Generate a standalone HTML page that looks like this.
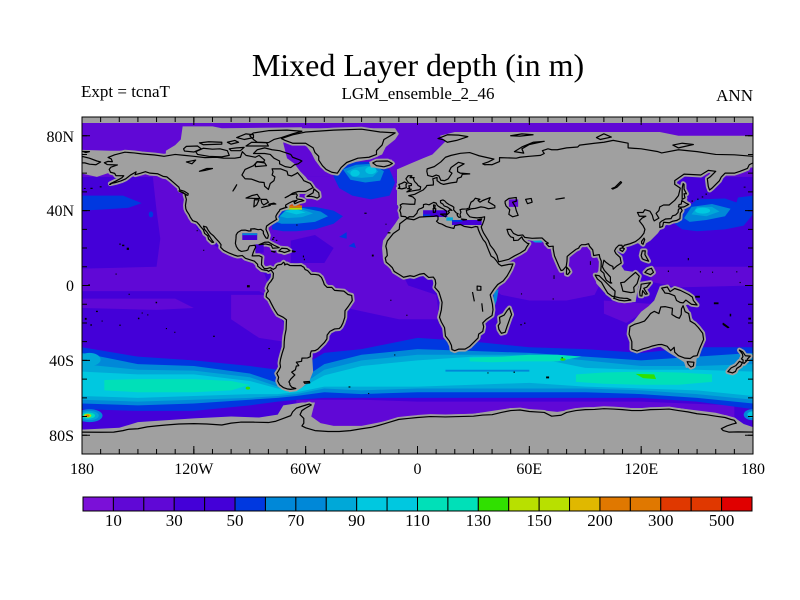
<!DOCTYPE html>
<html><head><meta charset="utf-8"><style>
html,body{margin:0;padding:0;background:#fff}
svg{display:block}
.t{font-family:"Liberation Serif",serif;fill:#000}
.l{fill:#a0a0a0;stroke:#a0a0a0;stroke-width:2.6;stroke-linejoin:round}
.g{fill:#a0a0a0}
.c{fill:none;stroke:#000;stroke-width:0.65;stroke-linejoin:round}
.d{fill:#000}
</style></head><body>
<svg width="800" height="600" viewBox="0 0 800 600" xmlns="http://www.w3.org/2000/svg">
<defs>
<clipPath id="clip"><rect x="82" y="117" width="671" height="337"/></clipPath>
<polygon id="na" points="-168,65.6 -166,66.3 -163.7,66.1 -164.3,67.6 -166,68.4 -162.5,69.8 -157,71.2 -152,70.8 -148,70.3 -141,69.7 -136,69 -130,70 -125,69.5 -120,69 -114,68.3 -108,68.5 -104,68 -98,68 -95,68.5 -94,71.5 -92,69.5 -87,68.5 -85,69.5 -82,67 -82.5,66 -86,66.2 -88,64 -92.5,62 -94.2,59 -92.5,57 -89,56.8 -85,55.3 -82.3,55 -82,53 -80,51.3 -79,54.5 -77,56 -76.5,58 -78,59 -77.5,60.7 -78,62.3 -73.5,62.3 -70,61 -69.5,59 -67.5,58.5 -65,59.8 -64.4,60.3 -62,57.5 -61,56 -57.5,54.5 -56,52.3 -57.5,51.5 -60,50.2 -64,50.2 -67,49.3 -69.5,47.6 -71,46.9 -68,48.5 -65,49 -64.5,48.2 -65,47.2 -64.6,46.2 -62,45.8 -61,45.3 -63.5,44.7 -65.8,43.7 -66.2,44.5 -64.7,45.4 -67,45 -69,44 -70.7,43 -70.8,42.2 -70,41.8 -71.5,41.4 -73.8,40.6 -74,40 -74.9,38.9 -75.5,38 -76,37 -75.9,36 -75.5,35.3 -76.5,34.7 -78,33.8 -79.3,33 -81,31.7 -81.3,30 -80.5,28.2 -80,26.7 -80.4,25.2 -81.2,25.3 -82,26.5 -82.7,27.8 -82.7,29 -84,30 -85.5,29.8 -87.5,30.3 -89.5,30.2 -89.3,29.2 -90.5,29.1 -92.5,29.6 -94.5,29.5 -96.5,28.3 -97.3,27 -97.4,25 -97.7,22.5 -97.2,20.8 -96,19 -94.5,18.2 -92,18.6 -91,19 -90.5,20.5 -90,21.2 -87.2,21.5 -86.8,20.5 -87.6,19 -88.2,17.5 -88.7,15.8 -88,15.8 -85,15.9 -83.4,15.2 -83.6,13.3 -83.7,11 -82.2,9 -80.5,9.1 -79,9.5 -77.4,8.6 -76,9.4 -75.6,10.5 -74.8,11 -73,11.3 -71.9,12.4 -71.2,11.8 -71.3,11 -70,11.5 -68.5,10.7 -66,10.6 -64,10.6 -62.5,10.7 -61.8,10.2 -61,9.8 -60.3,8.5 -59,8 -57.2,6 -55,5.9 -53,5.6 -51.5,4.3 -50.5,2 -50,0.5 -48.5,-1 -46,-1 -44.5,-2.6 -42,-2.8 -39.5,-3 -37.3,-4.8 -35.3,-5.3 -35,-8 -37,-11 -38.9,-13.5 -39,-17 -40,-20 -41,-22 -42,-23 -44.5,-23.2 -47,-24.5 -48.5,-26.5 -48.6,-28.5 -50,-30.5 -52,-32.5 -53.5,-34 -55,-34.8 -57,-35 -57.5,-36.5 -57.5,-38 -59,-38.7 -62,-38.8 -62.2,-40.5 -65,-41 -64,-42.3 -63.7,-42.8 -65,-43 -65.5,-45 -67.5,-46.3 -65.8,-47.8 -68,-50 -69,-51.5 -68.5,-52.3 -68.5,-53 -67.5,-54.3 -65.3,-55 -68,-55.5 -70,-55.2 -72,-54.5 -74,-53 -75,-51 -74.5,-49 -75.5,-47 -74.5,-45.5 -73.5,-43.5 -73.8,-41.5 -73.5,-39.5 -72.7,-36.5 -71.6,-33 -71.5,-30 -71.2,-27 -70.5,-23.5 -70.3,-18.3 -72,-17 -75,-15.5 -76.3,-13.5 -77.2,-12 -78.5,-9.5 -79.5,-7.5 -81.2,-6 -81,-4.3 -80,-3 -80.8,-1.5 -80,0.5 -79.3,1.5 -78.8,2 -77.5,4 -77.3,6.5 -78,7.5 -78.5,8.3 -80,7.5 -80.5,8 -82,8.2 -83.5,8.5 -85.7,10.3 -85.8,11.3 -87.5,13 -90,13.8 -92.3,14.5 -94,16 -96.5,15.7 -98.5,16.3 -101,17.3 -104,18.8 -105.6,20.4 -105.4,21.8 -106.5,23.3 -108.3,25.2 -109.4,26.5 -111,27.8 -112.3,29.5 -113.2,31.2 -114.8,31.7 -114.3,30 -112.9,28.4 -111.4,26 -110.3,24.2 -109.4,23.1 -110.2,23 -112.1,24.8 -112.5,26.5 -114.2,27.8 -114.9,29.8 -116.4,31.5 -117.1,32.5 -118.4,33.9 -120.6,34.6 -121.9,36.5 -122.5,37.8 -123.8,39.8 -124.3,41 -124.5,42.8 -124,46 -124.7,48.4 -123.2,48.2 -123,49 -125,50.3 -127.5,51 -128,52.5 -130.3,54.5 -132,56 -134.5,58 -136.5,58.3 -139.5,59.7 -143.5,60 -146,60.8 -148.5,60 -151.5,59.2 -151,60.7 -154,59 -156.5,57 -159,55.9 -162,55 -164.8,54.4 -162,55.7 -158.6,57.5 -157.6,58.6 -161.8,58.7 -162.5,59.9 -164.7,60.5 -165.4,62 -164.5,63.2 -161,64.4 -164.5,64.5 -166.5,64.6"/>
<polygon id="gl" points="-73,78.5 -67,80.5 -60,82 -45,83 -30,83.5 -20,82 -12,81.5 -18,78 -19,75 -22,72 -22,70 -26,68.5 -32,68 -38,65.7 -41,63 -43,60 -46,60.5 -49,62 -51,64 -53,67 -53,69 -55,71 -56,73.5 -60,76 -67,76 -71,77.5"/>
<polygon id="ic" points="-22,64 -24,65.5 -22,66.4 -16,66.5 -13.5,65.2 -15,64.3 -18,63.4"/>
<polygon id="eu" points="-5.6,36 -6.5,36.8 -8.8,37 -9,38.7 -9.5,40 -8.8,42 -9.3,43 -8,43.7 -4,43.4 -1.5,43.4 -1.2,46 -2.5,47.3 -4.7,48 -1.5,48.7 1,50 3,51 4.5,52.5 5,53.4 8.5,53.7 8.5,55.5 8.2,57 10.5,57.7 10.5,56 12.5,54.5 14,54 18,54.8 21,55.2 21.5,57.2 23.5,58 24,59.4 28,59.6 23,60 21.5,60.8 21.5,63 25,65 22,65.8 18,63 17,61 18.5,60 16.5,57 14.5,56 12.5,56.2 11.5,58.5 10,59 8,58.1 5.5,58.8 5,61 5.2,62.3 9,63.5 12.5,66 15,68.5 18,69.5 23,70.6 28,71 31,70 33,69.3 41,67.5 38,66 35,65 36,64.5 38,64.6 40,64.5 44,66.2 44,68.3 53,68 55,68.5 60,69 66,69.5 68,70.5 67,72 70,73 72,72.5 75,72.5 80,73.5 86,74 87,75 95,76 100,76.5 105,77.5 113,76 113,73.5 120,73 129,71.5 131,70.8 140,72.5 150,71.5 160,70 170,69.8 180,69 180,65.5 178,64.5 177,62.5 173,61 170,60 165,60 163,58 162,56 160,54 158,52 156.7,51 156,53 155.5,57 157,58 160,61 156,61.5 152,59 143,59.5 138,56 138,54 141,52 140,48 138,45.5 135,43 132,43 130,42 129.5,40 128,38.5 129.5,36 127,34.5 126.5,35.5 126,37.5 124.7,39.7 122,40.5 121,39 118,39 119,37 122.5,37 120.5,36 119,34.5 121,32 122,30 121.5,28 120,26 119,25 117,23.5 114,22.3 111,21.5 110,20.3 109.7,21.5 108,21.5 106.5,20 105.7,18.5 106.5,17 108.7,15 109.3,12 107,10.5 105,8.7 104.8,10.2 103,11 101,12.5 100,13.5 99.2,10 100.3,8 101.3,6.9 103.5,4.5 103.5,2 104.2,1.3 103.5,1.3 101.3,2.8 100.3,5 100,6.5 98.3,8 98.5,10 98.6,13 97.8,15 97.5,16.5 94.5,16 94,19 92.3,21 91.8,22.3 90,21.8 88,21.8 87,21 86.5,20 85,19.3 82,17 80.3,15.5 80.2,13 79.8,10.3 78,8.2 77,8 76,10 74.8,12.8 73.5,15.8 72.8,19.5 72.8,21 70.5,20.8 69,22.4 70.2,22.6 68.8,23.5 66.8,25.4 64,25.3 61.5,25.2 57.5,25.7 56.5,27 54,26.7 51.5,27.8 50,30 48,30 48.8,27.5 50,26 51.5,25.5 51.6,24 54,24.2 56,26 56.4,24.9 57.3,23.8 59,22.5 59.8,22.4 58.5,20.5 57.7,19 55,17.3 52,15.8 49,14 45,13 43.5,12.7 42.7,16 41,19 39,21.5 38,24 35.5,28 34.8,29.5 34.2,31.3 35,33 35.9,35.5 36,36.7 34,36.3 32,36.1 30,36.3 28,36.7 26.5,38.5 26.2,40.1 29,41 31,41.2 34,42 36,41.7 38,41 41.5,41.5 41.5,42.6 40,43.5 38,44.6 39,47 35,45.4 33.5,44.5 32.5,45.4 33.5,46 31,46.6 30,45.3 28.7,44.5 27.8,42 28,41.5 26.3,40.9 24,40.8 22.8,40.5 23.3,39.2 22.8,37.8 23.2,36.5 22.3,36.4 21.7,36.9 21.2,37.8 21.8,38.3 20.8,38.8 20,39.7 19.4,40.4 19.5,41.8 18.5,42.5 17,43.2 15.5,44.2 14.6,45.2 13.6,45.7 12.3,45.3 12.4,44.2 13.6,43.5 14.3,42.5 16,41.9 17.9,40.6 18.5,40.1 17.3,40.4 16.5,39.7 17.1,39 16.1,38 15.6,38 15.7,39.5 14.9,40.2 14,40.9 12.6,41.5 11.1,42.4 10.5,43 10,44 8.7,44.4 7.5,43.8 6.2,43.1 4.5,43.5 3.2,43.2 3.2,41.9 2.2,41.3 0.8,40.8 0,39.8 -0.3,38.6 -1.4,37.5 -2.2,36.7 -4.4,36.7"/>
<polygon id="ck" points="-180,69 -176,68 -172,66.5 -170,66 -172.5,64.5 -176,64.8 -178.5,65.5 -180,65.5"/>
<polygon id="af" points="-5.8,35.8 -9.5,33 -9.8,30 -13,27.8 -14.8,25.5 -16.2,23.8 -17,21 -16.5,19 -16.2,16 -17.3,14.7 -16.8,12.5 -15,11 -13.5,9.5 -12.5,7.5 -10,6 -7.5,4.4 -4,5.2 -2,4.8 1,6 3.5,6.4 6,4.3 8.5,4.5 9.5,3 9.8,1 9.3,-1 11.5,-3.5 12.3,-6 13.2,-9 12.8,-13 11.8,-17 12.8,-19.5 14.5,-22.5 15,-27 17,-29.5 18.2,-32 18.5,-34.2 20,-34.8 22,-34 25.5,-34 28,-32.5 30.5,-30 32.5,-28 32.8,-26 35,-24.5 35.5,-22 35,-20 37,-18 40,-16 40.5,-13 40.2,-10 39.5,-7 39,-5 41,-2 43,0.5 46,2.5 48,5 50,8.5 51.2,11.5 49,11.3 45,10.5 43.5,11.5 42.5,13 41,14.8 39.5,15.7 38.5,18 37.3,21 36.5,23 35.2,24.5 33.7,27.3 32.6,29.9 32.3,31.3 31,31.5 29,30.9 25,31.6 23,32.6 20,32 19.5,30.5 18,30.8 15.5,31.5 13,32.8 11.5,33.2 10.2,34.3 11,35.2 11,37 10,37.3 8.6,36.9 5,36.8 1,36.5 -2,35.1"/>
<polygon id="md" points="49.3,-12 50.5,-15.5 49.8,-17 48,-22 47,-25 45,-25.5 43.7,-23.5 43.3,-21.5 44.3,-20 44,-17 46.5,-15.8 48,-13.5"/>
<polygon id="gb" points="-5.7,50 -3,50.5 1.4,51.2 1.7,52.7 0.3,53.4 -0.3,54.3 -1.6,55.6 -2.2,57 -1.8,57.6 -4,57.6 -3,58.6 -5,58.6 -6.2,57 -5.6,56 -4.8,54.8 -3.2,54.3 -3.3,53.4 -4.7,53.2 -4.2,52.2 -5.3,51.7 -3.3,51.4 -5.5,50.2"/>
<polygon id="ir" points="-6,52.2 -6.2,53.8 -5.6,54.6 -7,55.3 -8.5,54.5 -10,54 -9.5,52.5 -10.3,51.9 -8.4,51.6"/>
<polygon id="jp" points="130,31 131.5,31.5 132,33.8 135,33.5 136.8,34.3 139,34.7 140.8,35.7 141,38.5 142,40 141.3,41.4 140,40.7 139.8,39 138.5,37.7 136.8,37.2 136,35.7 133,35.5 131,34.4 130,33.5"/>
<polygon id="hk" points="140,42 141.3,41.8 143,42 145.5,43.3 144,44 141.8,45.4 141.5,43.5 140.3,43.2"/>
<polygon id="sk" points="142,46 143.5,46.8 143,49 144.3,49 143,51.5 143,54 142.5,54.4 142,52 142,48"/>
<polygon id="tw" points="120.3,22.5 121,22 121.9,24.5 121.5,25.3 120.2,23.5"/>
<polygon id="hn" points="108.6,19 110,18.2 111,19.6 110.2,20.1 108.7,19.8"/>
<polygon id="lz" points="120,16 120.6,18.5 122.2,18.5 122,16.5 124,13 121.5,13.8 120.6,14.3"/>
<polygon id="mi" points="122,7 125,5.8 126.6,7 125.5,9.2 123.5,8.5"/>
<polygon id="bo" points="109,1.5 109.7,-1 110.2,-3 114.5,-3.8 116.3,-3.5 116,-1 117.8,1 119,5 117,7 116,6.2 114,4.5 111,1.8"/>
<polygon id="su" points="95.3,5.6 97.5,5.2 100.3,2.5 103.8,-1 106,-3 105.8,-5.8 104.5,-5.8 102,-4 100.5,-1.5 98.7,1.7 96.5,3.5"/>
<polygon id="jv" points="105.2,-6.8 106,-6 108.5,-6.6 110.5,-6.8 112.6,-6.9 114.5,-7.8 111,-8.2 108,-7.8"/>
<polygon id="sl" points="119.4,-5.5 120.4,-5.6 120.8,-2.7 122.3,-4.7 123.3,-4.5 121.4,-1.5 123,-0.9 125,1.5 120,0.7 119.8,-1 119.2,-3.5"/>
<polygon id="ng" points="131,-1.4 134,-0.8 135.5,-3.3 138,-1.6 141,-2.6 145.5,-4.8 147.5,-6.2 148,-8 150,-10.4 147,-10 144,-7.8 142.5,-9.3 141,-9.1 139,-8 138,-5.5 135,-4.3 132.7,-4 132,-2.8"/>
<polygon id="au" points="114,-22 113.5,-26 115,-30 115,-34 117.8,-35 121,-33.8 124,-33 126,-32.3 129,-31.6 131,-31.5 134,-32.5 135.8,-34.8 137.7,-33 138,-35.6 140,-37.5 143.5,-38.8 146.3,-39 148,-37.8 150,-37.5 151.3,-33.8 153.5,-28.8 153,-25.5 150.7,-22.5 148.8,-20.5 146.3,-19 145.5,-15 143.6,-14 142.5,-10.8 141.6,-12.5 141.5,-15.5 140.5,-17.5 139,-17 136.5,-15.5 136.8,-12.2 133,-11.3 130.5,-11.5 129.5,-15 127,-13.8 125,-15 123.5,-17 121.8,-19 119,-20 116.5,-20.7"/>
<polygon id="ts" points="144.7,-40.7 148.3,-41 148,-43 146.7,-43.6 145.3,-42.2"/>
<polygon id="nzn" points="172.7,-34.5 174.5,-35.5 175.9,-37.5 178.5,-37.7 177,-39.3 176.8,-40 175.2,-41.6 174.6,-41.2 174.7,-39.8 173.8,-39.2 174.6,-38 174.3,-36.5"/>
<polygon id="nzs" points="172.7,-40.5 174.3,-41.3 173.3,-43 171.3,-44.3 170.6,-45.9 169,-46.7 166.5,-46 168.3,-44 170.8,-42.8 172,-41.4"/>
<polygon id="lk" points="79.9,6.1 80,9.8 81.2,8.5 81.8,7.3 80.6,5.9"/>
<polygon id="cu" points="-85,21.8 -82,23.1 -80,23.2 -77,21.5 -74.2,20.2 -77.7,19.9 -78.5,21.5 -81.5,22.2 -84,21.9"/>
<polygon id="hi" points="-74.4,18.4 -72.8,19.9 -70,19.7 -68.4,18.6 -71.4,17.6 -72.7,18.1"/>
<polygon id="nf" points="-59.3,47.6 -56,49.5 -55.6,51.6 -53,49.5 -52.7,47.5 -53.8,46.7 -55.5,47.3 -57,47.6"/>
<polygon id="an" points="-180,-78.3 -170,-78.4 -163,-78.3 -158,-77.5 -155,-76.8 -150,-76.5 -145,-75.5 -140,-75 -135,-74.5 -128,-74 -120,-73.8 -113,-74 -105,-74.5 -100,-73.5 -95,-73 -88,-73 -80,-73.2 -76,-72.5 -72,-71 -68,-69.5 -67,-67.5 -65,-65.5 -62,-64.5 -58,-63.3 -57,-63.8 -60,-65.5 -62,-66.8 -63,-69 -61,-71 -61,-73.5 -62,-75 -60,-76 -55,-77.5 -48,-78 -42,-78 -36,-77.5 -30,-76.5 -25,-75.8 -20,-74.5 -15,-73 -10,-71.5 -5,-71 0,-70.5 7,-70 15,-70.2 22,-70 30,-69.8 35,-69.2 40,-69 45,-67.8 50,-66.8 55,-66.5 60,-67.3 68,-67.8 70,-68.8 72,-69.8 77,-69.3 80,-67.8 85,-66.8 90,-66.3 95,-66.2 100,-65.8 105,-66 110,-66.3 115,-66.8 120,-66.8 125,-66.3 130,-66.2 135,-66 140,-66.8 145,-67.5 150,-68.5 155,-69 160,-69.8 165,-70.5 168,-71.5 170,-72 171,-73.5 169,-74 166,-75 163,-76.5 164,-77.5 167,-78.3 172,-78.2 180,-78.3 180,-95 -180,-95"/>
</defs>
<rect width="800" height="600" fill="#fff"/>
<g clip-path="url(#clip)">
<g transform="matrix(1.8639 0 0 -1.8722 417.5 285.5)">
<rect x="-180" y="-90" width="360" height="180" fill="#4400d8"/>
<g fill="#6008d6">
<polygon points="-180,58 180,58 180,90 -180,90"/>
<polygon points="-98,8 -98,58 5,58 5,30 -10,10 -5,0 10,-5 12,-18 -10,-18 -38,-12 -50,0 -60,8"/>
<polygon points="-180,9 -160,9.5 -140,10 -138,25 -140,40 -142,58 -125,58 -123,40 -118,30 -110,22 -100,16 -90,12 -82,6 -80,0 -81,-5 -85,-3 -100,-3 -140,-3 -180,-3"/>
<polygon points="125,10 180,10 180,0 140,-1 125,2"/>
<polygon points="-180,-7 -130,-7 -120,-12 -140,-13 -180,-12"/>
<polygon points="-100,-5 -80,-5 -72,-20 -72,-30 -85,-28 -100,-18"/>
<polygon points="38,25 100,25 100,5 95,-5 80,-8 60,-8 45,-5 38,0"/>
<polygon points="100,-8 128,-10 112,-20 100,-15"/>
<polygon points="-65,-61 -30,-61 0,-62 60,-62 120,-62 170,-64 170,-90 -65,-90"/>
</g>
<polygon fill="#4400d8" points="-68,12 -50,12 -45,20 -55,27 -68,24"/>
<polygon fill="#0038e0" points="-180,-33 -150,-38 -120,-40 -90,-43 -75,-45 -65,-45 -50,-36 -30,-34 0,-28 30,-30 60,-33 90,-34 120,-36 150,-33 180,-33 180,-66 150,-62 120,-60 90,-60 60,-60 30,-60 0,-60 -30,-60 -50,-60 -65,-61 -75,-62 -90,-64 -120,-67 -150,-67 -180,-66"/>
<polygon fill="#0088d8" points="-180,-36 -150,-42 -120,-43 -90,-47 -75,-52 -65,-52 -50,-42 -30,-37 0,-34 30,-35 60,-36 90,-38 120,-40 150,-38 180,-36 180,-63 150,-60 120,-58 90,-57 60,-57 30,-57 0,-57 -30,-58 -50,-57 -65,-59 -75,-60 -90,-61 -120,-63 -150,-64 -180,-63"/>
<polygon fill="#00a8d8" points="-180,-42 -150,-45 -120,-45.5 -90,-49 -75,-54 -65,-55 -50,-45 -30,-40 0,-37 30,-37 60,-37 90,-40 120,-43 150,-43 180,-42 180,-61 150,-58 120,-56 90,-55 60,-55 30,-55 0,-55 -30,-56 -50,-55 -65,-58 -75,-59 -90,-60 -120,-61 -150,-62 -180,-61"/>
<polygon fill="#00c8e0" points="-180,-46 -150,-47.5 -120,-47.5 -90,-51 -75,-55 -65,-56 -50,-48 -30,-43 0,-40 30,-38 60,-38 90,-44 120,-45 150,-45 180,-46 180,-59 150,-56 120,-55 90,-54 60,-52 30,-53 0,-54 -30,-54 -50,-54 -65,-57 -75,-58 -90,-58 -120,-59 -150,-60 -180,-59"/>
<ellipse fill="#00a8d8" cx="-176" cy="-39.5" rx="6" ry="3.5"/>
<g fill="#00e0b8">
<polygon points="-168,-50.5 -150,-50 -120,-50 -100,-51 -90,-53 -100,-56 -120,-57 -150,-57 -168,-56"/>
<polygon points="85,-47.5 100,-46.5 120,-46 140,-46.5 158,-47.5 158,-51.5 140,-53 120,-53 100,-52.5 85,-51.5"/>
<polygon points="28,-38.5 45,-38 60,-37 75,-37 88,-38 75,-40.5 55,-40.5 40,-41 28,-40.5"/>
</g>
<g fill="#30e000">
<polygon points="117,-47.2 127,-47.5 128,-50 121,-49.5"/>
<ellipse cx="-91" cy="-54.8" rx="1.2" ry="0.8"/>
<ellipse cx="78" cy="-39.5" rx="1.5" ry="0.7"/>
</g>
<polygon fill="#0088d8" points="15,-45 60,-45 60,-46 15,-46"/>
<polygon fill="#0038e0" points="-180,40 -170,40.5 -155,41.5 -148,44 -158,48 -180,48"/>
<polygon fill="#0038e0" points="170,41 180,40 180,48 172,47"/>
<ellipse fill="#0038e0" cx="-143" cy="38" rx="1.2" ry="1.6"/>
<polygon fill="#0038e0" points="138,33 143,40 150,46 165,46.5 178,42 180,38 175,32 165,30 150,29 142,30"/>
<polygon fill="#0088d8" points="143,36 147,42 158,43.5 168,41 165,37 155,35 146,34"/>
<polygon fill="#00a8d8" points="147,38 150,42 158,42 162,39.5 155,37"/>
<ellipse fill="#00c8e0" cx="153" cy="40" rx="4" ry="1.6"/>
<polygon fill="#0038e0" points="-78,32 -75,36 -72,41 -65,42 -55,42 -45,40 -40,37 -45,33 -55,30 -65,29 -72,29 -78,30"/>
<polygon fill="#0088d8" points="-76,34 -73,38 -70,41 -62,41.5 -52,39.5 -48,37 -55,34 -65,33 -73,33"/>
<polygon fill="#00a8d8" points="-74,37 -70,40.5 -63,41 -56,38.5 -62,36.5 -70,36"/>
<polygon fill="#00c8e0" points="-71,39.5 -66,41 -60,39 -65,38"/>
<polygon fill="#b8e000" points="-72,40.5 -62,40.5 -62,41.5 -72,41.5"/>
<polygon fill="#e07800" points="-72,41.5 -62,41.5 -62,42.8 -72,42.8"/>
<polygon fill="#e03800" points="-71,42.8 -63,42.8 -63,44 -71,44"/>
<polygon fill="#0038e0" points="-42,26 -38,28.5 -38,25"/>
<polygon fill="#0038e0" points="-37,21 -34,23 -33,20"/>
<polygon fill="#0038e0" points="-45,62 -38,66 -25,66 -15,62 -12,55 -15,48 -25,46 -35,48 -42,52 -45,58"/>
<polygon fill="#0088d8" points="-40,62 -33,64.5 -24,65 -18,61 -20,56 -28,55 -36,56.5"/>
<polygon fill="#00a8d8" points="-38,61 -33,63 -26,64 -21,61 -24,58 -30,57.5 -35,58"/>
<ellipse fill="#00c8e0" cx="-33.5" cy="60" rx="2.5" ry="1.8"/>
<ellipse fill="#00c8e0" cx="-25" cy="61.5" rx="3" ry="2"/>
<ellipse fill="#0088d8" cx="-176" cy="-69.5" rx="7" ry="3.5"/>
<ellipse fill="#00a8d8" cx="-176" cy="-69.5" rx="5" ry="2.5"/>
<ellipse fill="#00e0b8" cx="-176.5" cy="-69.5" rx="3.5" ry="1.6"/>
<ellipse fill="#b8e000" cx="-177" cy="-69.5" rx="2" ry="1"/>
<ellipse fill="#e07800" cx="-177" cy="-69.5" rx="1" ry="0.6"/>
<ellipse fill="#0088d8" cx="180" cy="-69" rx="5" ry="3"/>
<ellipse fill="#00c8e0" cx="180" cy="-69" rx="3" ry="1.8"/>
<polygon fill="#00a8d8" points="61,24.2 66,24.8 67,23 63,23"/>
<polygon fill="#0088d8" points="41,-3 43.5,-2 42.5,-8 41.3,-11.5 40.5,-9"/>
<g class="g">
<polygon points="-180,86.8 180,86.8 180,91 -180,91"/>
<polygon points="-135,69 -135,72 -130,75 -127,78 -126,85 -110,85 -105,84 -62,84.5 -62,82.5 -72,78.5 -72,76 -71,72 -70,68 -66,65 -63,61 -60,58 -57,54 -70,50 -95,52 -110,60 -125,67"/>
<polygon points="-74,78.5 -72,80 -62,84 -12,84 -10,81 -12,78 -17,74 -19,70 -25,67.5 -33,66 -39,64 -42,60 -44,59 -48,60 -52,63 -55,67 -57,71 -60,75 -66,76 -72,77"/>
<polygon points="-25,63 -26,66 -22,67.3 -14,67.3 -12,65 -14,63.5 -19,62.8"/>
<polygon points="-11,43 -11,62 -4,65 3,68 8,70 12,74 15,77 12,80 20,82 60,82 130,82 140,80 181,80 181,66 170,66 160,62 60,60 45,43"/>
<polygon points="-181,60 -181,72.5 -165,72 -158,72 -160,66 -163,62 -166,60 -172,58"/>
<polygon points="172,63 172,66 175,72 181,75 181,63"/>
<polygon points="-6,30 -6,46 42,48 42,30"/>
<polygon points="-10,36 -12,33 -15,29 -18.5,24 -19,20 -18.5,14 -17,12 -10,12 -8,36"/>
<polygon points="32,31 35.5,29.5 43.7,12.3 42.5,12.3 38,18 33,27"/>
<polygon points="47.5,30.5 50.5,30.5 57,27.5 56.5,24 51,24 48,28"/>
<polygon points="95,5 98,9 100,13 105,12 109,11 111,8 118,7 119,3 118,-3 117,-8.8 112,-9 105,-7.5 100,-3.5 96,1"/>
<polygon points="117,23 121,21.5 125,24 129,28 131,31 135,33 140,34.5 142,37 143,42 145,45 142,50 138,50 133,46 128,41 124,40 118,40"/>
<polygon points="113,-21 113.5,-27 114.5,-34.5 118,-35.5 124,-34 130,-32.5 135,-36 140,-39 143,-41 144,-44 149,-43.5 150,-38 153,-33 154,-28 153.5,-24 150,-21 147,-17 146,-14 144,-10.5 146,-10 151,-10.5 148,-6 144,-3 141,-2 135,-1 130,-0.5 129,-3 127,-8 124,-11 120,-14 116,-19"/>
<polygon points="-65,-38.5 -56.5,-38 -56,-46 -58,-51 -62,-54.5 -65,-56.5 -69,-57 -68,-52 -66,-47 -63,-42"/>
<polygon points="-181,-77 -160,-76 -150,-73 -135,-72 -120,-71 -100,-70 -85,-70.5 -75,-69 -72,-64 -62,-62.5 -55,-62.5 -56,-66 -57,-70 -52,-73.5 -45,-75 -30,-75 -15,-72 0,-69.5 30,-68.5 50,-65.5 60,-66 75,-67.5 90,-65.3 140,-65.5 160,-68 170,-70.5 175,-74 181,-76 181,-91 -181,-91"/>
<polygon points="-98,17.5 -98,31 -80,31 -80.5,24.5 -84,22 -87,21.8 -90,20 -92,18"/>
</g>
<g class="l">
<use href="#na"/><use href="#gl"/><use href="#ic"/><use href="#eu"/><use href="#ck"/><use href="#af"/><use href="#md"/><use href="#gb"/><use href="#ir"/><use href="#jp"/><use href="#hk"/><use href="#sk"/><use href="#tw"/><use href="#hn"/><use href="#lz"/><use href="#mi"/><use href="#bo"/><use href="#su"/><use href="#jv"/><use href="#sl"/><use href="#ng"/><use href="#au"/><use href="#ts"/><use href="#nzn"/><use href="#nzs"/><use href="#lk"/><use href="#cu"/><use href="#hi"/><use href="#nf"/><use href="#an"/>
</g>
<polygon fill="#4400d8" points="-94,24.3 -86,24.3 -86,27.9 -94,27.9"/>
<polygon fill="#0088d8" points="-94,26.9 -86,26.9 -86,27.9 -94,27.9"/>
<polygon fill="#4400d8" points="3,36.6 16,36.6 16,40.2 3,40.2"/>
<polygon fill="#0038e0" points="3,36.6 7,36.6 7,38 3,38"/>
<polygon fill="#00a8d8" points="15.5,34.6 19,34.6 19,36.4 15.5,36.4"/>
<polygon fill="#4400d8" points="18.5,32.3 34.4,32.3 34.4,35 18.5,35"/>
<polygon fill="#0038e0" points="18.5,34 24,34 24,35 18.5,35"/>
<polygon fill="#6008d6" points="49,42 54,42 54,46 49,46"/>
<polygon fill="#4400d8" points="-87,17.5 -82.5,17.5 -82.5,22 -87,22"/>
<g class="c">
<use href="#na"/><use href="#gl"/><use href="#ic"/><use href="#eu"/><use href="#ck"/><use href="#af"/><use href="#md"/><use href="#gb"/><use href="#ir"/><use href="#jp"/><use href="#hk"/><use href="#sk"/><use href="#tw"/><use href="#hn"/><use href="#lz"/><use href="#mi"/><use href="#bo"/><use href="#su"/><use href="#jv"/><use href="#sl"/><use href="#ng"/><use href="#au"/><use href="#ts"/><use href="#nzn"/><use href="#nzs"/><use href="#lk"/><use href="#cu"/><use href="#hi"/><use href="#nf"/>
<polyline points="-181,-78.3 -170,-78.4 -163,-78.3 -158,-77.5 -155,-76.8 -150,-76.5 -145,-75.5 -140,-75 -135,-74.5 -128,-74 -120,-73.8 -113,-74 -105,-74.5 -100,-73.5 -95,-73 -88,-73 -80,-73.2 -76,-72.5 -72,-71 -68,-69.5 -67,-67.5 -65,-65.5 -62,-64.5 -58,-63.3 -57,-63.8 -60,-65.5 -62,-66.8 -63,-69 -61,-71 -61,-73.5 -62,-75 -60,-76 -55,-77.5 -48,-78 -42,-78 -36,-77.5 -30,-76.5 -25,-75.8 -20,-74.5 -15,-73 -10,-71.5 -5,-71 0,-70.5 7,-70 15,-70.2 22,-70 30,-69.8 35,-69.2 40,-69 45,-67.8 50,-66.8 55,-66.5 60,-67.3 68,-67.8 70,-68.8 72,-69.8 77,-69.3 80,-67.8 85,-66.8 90,-66.3 95,-66.2 100,-65.8 105,-66 110,-66.3 115,-66.8 120,-66.8 125,-66.3 130,-66.2 135,-66 140,-66.8 145,-67.5 150,-68.5 155,-69 160,-69.8 165,-70.5 168,-71.5 170,-72 171,-73.5 169,-74 166,-75 163,-76.5 164,-77.5 167,-78.3 172,-78.2 181,-78.3"/>
<polygon points="-62,66.5 -64,65 -66,64.5 -68,63 -71,63.5 -74,65 -74,66.5 -77,68 -79,70 -82,70.5 -88,70.5 -86,72.5 -82,73.5 -78,72.5 -74,72 -71,71 -68,70 -67,68.5 -63,67"/>
<polygon points="-118,70 -112,69 -105,68.7 -101,69.5 -102,72 -106,73 -110,72.8 -115,73.3 -119,71.5"/>
<polygon points="-125,71.8 -120,71.3 -116,73 -118,74.5 -124,74.3 -125.5,73"/>
<polygon points="-90,80 -88,81.5 -80,82.7 -70,83 -62,82.4 -67,81 -73,79 -77,78 -80,76.3 -86,76.5 -88,78"/>
<polygon points="-92,74.5 -89,76.5 -81,76.3 -80,74.5 -86,74.5"/>
<polygon points="-100,72 -95,72 -93,73.8 -97,73.5 -101,73"/>
<polygon points="-97,79 -92,81 -88,80.5 -88,79 -93,78"/>
<polygon points="-115,75.2 -105,75.5 -105,76.5 -112,76.8 -117,76.2"/>
<polygon points="-100,75.5 -96,76.5 -98,77.5 -102,76.5"/>
<polygon points="-87,63.5 -81,64 -82,65.5 -86,66 -87,65"/>
<polygon points="11,78.5 16,80.5 22,80.3 27,79.5 21,77.5 16,76.5 14,77.8"/>
<polygon points="52,71.5 56,74 62,76.5 68,77 60,75.3 56,73 57,70.7"/>
<polygon points="96,79 100,81 104,79.3 98,78"/>
<polygon points="137,75 142,76 148,75.3 140,73.5"/>
<polygon points="50,80 56,81 62,80.5 55,79.8"/>
<polygon points="-178,71 -176,71.5 -179.5,71.6"/>
<polygon points="12.4,38.1 15.6,38.2 15.1,36.7"/>
<polygon points="8.4,41.1 9.8,41 9.6,39.2 8.5,39"/>
<polygon points="8.6,43 9.5,42.9 9.3,41.4 8.7,41.7"/>
<polygon points="23.5,35.5 26.3,35.2 24.5,35"/>
<polygon points="32.3,35.1 34.5,35.6 33.9,34.7 32.5,34.7"/>
<polygon points="-78.3,18.3 -76.3,18 -76.8,17.8 -78,18.2"/>
<polygon points="-67.2,18.5 -65.6,18.2 -66,18 -67,18"/>
<polygon points="-61,-51.5 -58,-51.3 -57.8,-52 -60.5,-52.2"/>
<polygon points="164,-20.2 167,-22.4 166.5,-22.5 164,-20.8"/>
<polygon points="-128,50.5 -124,48.5 -125.5,49.5"/>
<polygon points="47,45 49,46.5 53,47 53,45 51,44.5 52.5,42 53,40 54,37.5 51,36.7 49,38 49.5,40.5 47.5,42.5 47,44"/>
<polygon points="58,46 61,46.5 61.5,44.5 59,43.7"/>
<polyline points="104,51.7 106,52.5 109,55.5 109.5,55 107,52.5 104.5,51.4"/>
<polygon points="32,-0.3 34,-0.5 34,-2.5 32,-2.5"/>
<polyline points="29.5,-3.5 30.5,-8.5"/>
<polyline points="34.5,-9.5 35,-14"/>
<polygon points="-92,46.7 -89,48 -86,48.7 -84.5,46.5 -87,46.5"/>
<polygon points="-87.8,42 -87.5,45.8 -85,45.8 -86.3,43"/>
<polygon points="-84,46 -81,46 -80,44.5 -82.5,43 -83.5,44"/>
<polygon points="-83.5,41.7 -79,42.8 -81,42.3"/>
<polygon points="-79.8,43.3 -76,43.5 -77,44 -79.5,43.5"/>
<polygon points="-117,61 -113,62.5 -110,62.5 -114,61.5"/>
<polygon points="-124,66 -119,67 -121,65"/>
<polygon points="-99,50.5 -97,53.8 -98,52"/>
<polyline points="74,46 79,46.8"/>
</g>
<g class="d">
<rect x="-158.5" y="21" width="1.2" height="0.8"/><rect x="-156" y="19" width="1.2" height="1.2"/><rect x="-160" y="21.8" width="0.8" height="0.6"/>
<rect x="-150" y="-18" width="0.8" height="0.8"/><rect x="-140.5" y="-9.5" width="0.8" height="0.8"/><rect x="-160" y="-21.5" width="0.8" height="0.6"/>
<rect x="-175.5" y="-21.5" width="0.8" height="0.8"/><rect x="-178.5" y="-18.3" width="1" height="1"/><rect x="-172.5" y="-14.2" width="1" height="0.7"/>
<rect x="-169.5" y="-19.3" width="0.6" height="0.6"/><rect x="-109.6" y="-27.5" width="0.8" height="0.7"/><rect x="-91.5" y="-1" width="1.5" height="1.2"/>
<rect x="-80" y="-34" width="0.8" height="0.6"/><rect x="-24.5" y="15.5" width="1" height="1"/><rect x="-16" y="27.8" width="1.5" height="0.7"/>
<rect x="-28.5" y="38.3" width="1.2" height="0.6"/><rect x="-17.2" y="32.5" width="0.6" height="0.5"/><rect x="-65" y="32" width="0.6" height="0.6"/>
<rect x="-6" y="-16.2" width="0.6" height="0.6"/><rect x="-14.6" y="-8.2" width="0.6" height="0.6"/><rect x="-12.5" y="-37.4" width="0.6" height="0.6"/>
<rect x="55.2" y="-21.3" width="0.7" height="0.7"/><rect x="57.2" y="-20.5" width="0.7" height="0.7"/><rect x="69" y="-49.6" width="1.6" height="1"/>
<rect x="77.3" y="-38.9" width="0.6" height="0.6"/><rect x="37.5" y="-47" width="0.6" height="0.6"/><rect x="51.5" y="-46.6" width="0.8" height="0.6"/>
<rect x="177.5" y="-18.2" width="1.4" height="1"/><rect x="167.5" y="-16.5" width="0.8" height="1.4"/><rect x="159" y="-10" width="2.5" height="1"/>
<rect x="149" y="-6.5" width="2.5" height="1"/><rect x="145" y="13.5" width="0.6" height="1.2"/><rect x="134.3" y="7.2" width="0.6" height="0.8"/>
<rect x="151.5" y="7" width="0.6" height="0.6"/><rect x="158" y="6.8" width="0.6" height="0.6"/><rect x="171" y="7" width="0.6" height="0.6"/>
<rect x="172.8" y="1.3" width="0.6" height="0.6"/><rect x="-130.5" y="-25.3" width="0.6" height="0.6"/><rect x="-135" y="-23.3" width="0.6" height="0.6"/>
<rect x="-175.5" y="51.6" width="1.2" height="0.6"/><rect x="-170.5" y="52.4" width="1" height="0.6"/><rect x="-165.5" y="53.7" width="1.2" height="0.6"/>
<rect x="-179" y="51.6" width="1" height="0.5"/><rect x="175" y="52.3" width="1" height="0.5"/><rect x="147" y="44.8" width="0.8" height="0.6"/>
<rect x="150" y="45.8" width="0.8" height="0.6"/><rect x="152.5" y="47" width="0.8" height="0.6"/><rect x="154.5" y="48.5" width="0.8" height="0.6"/>
<rect x="-78" y="24.3" width="0.8" height="0.8"/><rect x="-77.5" y="25.3" width="0.8" height="0.6"/><rect x="-76" y="23.8" width="0.8" height="0.6"/>
<rect x="-61.5" y="15" width="0.6" height="1"/><rect x="-61" y="13.5" width="0.6" height="0.8"/><rect x="-115" y="18.5" width="0.6" height="0.6"/>
<rect x="-118.5" y="29" width="0.6" height="0.6"/><rect x="-148" y="-15" width="0.6" height="0.6"/><rect x="-145" y="-16" width="0.6" height="0.6"/>
<rect x="-155" y="-5" width="0.6" height="0.6"/><rect x="-162" y="5.8" width="0.6" height="0.6"/><rect x="-176.5" y="0.2" width="0.6" height="0.6"/>
<rect x="55.5" y="-4.8" width="0.6" height="0.6"/><rect x="73" y="3.5" width="0.5" height="2"/><rect x="72.5" y="-7.5" width="0.6" height="0.6"/>
<rect x="92.5" y="11" width="0.5" height="2"/><rect x="-37" y="-54.5" width="1" height="0.6"/><rect x="-26.5" y="-58" width="0.6" height="0.6"/>
</g>
</g>
</g>
<rect x="82" y="117" width="671" height="337" fill="none" stroke="#000" stroke-width="1"/>
<g stroke="#000" stroke-width="1" fill="none">
<path d="M82,117v5m18.639,-5v5m18.639,-5v5m18.639,-5v5m18.639,-5v5m18.639,-5v5m18.639,-5v5m18.639,-5v5m18.639,-5v5m18.639,-5v5m18.639,-5v5m18.639,-5v5m18.639,-5v5m18.639,-5v5m18.639,-5v5m18.639,-5v5m18.639,-5v5m18.639,-5v5m18.639,-5v5m18.639,-5v5m18.639,-5v5m18.639,-5v5m18.639,-5v5m18.639,-5v5m18.639,-5v5m18.639,-5v5m18.639,-5v5m18.639,-5v5m18.639,-5v5m18.639,-5v5m18.639,-5v5m18.639,-5v5m18.639,-5v5m18.639,-5v5m18.639,-5v5m18.639,-5v5"/>
<path d="M82,454v-5m18.639,5v-5m18.639,5v-5m18.639,5v-5m18.639,5v-5m18.639,5v-5m18.639,5v-5m18.639,5v-5m18.639,5v-5m18.639,5v-5m18.639,5v-5m18.639,5v-5m18.639,5v-5m18.639,5v-5m18.639,5v-5m18.639,5v-5m18.639,5v-5m18.639,5v-5m18.639,5v-5m18.639,5v-5m18.639,5v-5m18.639,5v-5m18.639,5v-5m18.639,5v-5m18.639,5v-5m18.639,5v-5m18.639,5v-5m18.639,5v-5m18.639,5v-5m18.639,5v-5m18.639,5v-5m18.639,5v-5m18.639,5v-5m18.639,5v-5m18.639,5v-5m18.639,5v-5"/>
<path d="M82,117v8m111.834,-8v8m111.834,-8v8m111.834,-8v8m111.834,-8v8m111.834,-8v8m111.834,-8v8"/>
<path d="M82,454v-8m111.834,8v-8m111.834,8v-8m111.834,8v-8m111.834,8v-8m111.834,8v-8m111.834,8v-8"/>
<path d="M82,135.72h5m-5,18.722h5m-5,18.722h5m-5,18.722h5m-5,18.722h5m-5,18.722h5m-5,18.722h5m-5,18.722h5m-5,18.722h5m-5,18.722h5m-5,18.722h5m-5,18.722h5m-5,18.722h5m-5,18.722h5m-5,18.722h5m-5,18.722h5m-5,18.722h5"/>
<path d="M753,135.72h-5m5,18.722h-5m5,18.722h-5m5,18.722h-5m5,18.722h-5m5,18.722h-5m5,18.722h-5m5,18.722h-5m5,18.722h-5m5,18.722h-5m5,18.722h-5m5,18.722h-5m5,18.722h-5m5,18.722h-5m5,18.722h-5m5,18.722h-5m5,18.722h-5"/>
<path d="M82,135.72h8m-8,74.888h8m-8,74.888h8m-8,74.888h8m-8,74.888h8"/>
<path d="M753,135.72h-8m8,74.888h-8m8,74.888h-8m8,74.888h-8m8,74.888h-8"/>
</g>
<text class="t" x="418" y="76" text-anchor="middle" font-size="32">Mixed Layer depth (in m)</text>
<text class="t" x="81" y="97" font-size="17">Expt = tcnaT</text>
<text class="t" x="418" y="99" text-anchor="middle" font-size="17">LGM_ensemble_2_46</text>
<text class="t" x="753" y="101" text-anchor="end" font-size="17">ANN</text>
<g class="t" font-size="16" text-anchor="end">
<text x="74" y="142">80N</text>
<text x="74" y="216">40N</text>
<text x="74" y="291">0</text>
<text x="74" y="366">40S</text>
<text x="74" y="441">80S</text>
</g>
<g class="t" font-size="16" text-anchor="middle">
<text x="82" y="474">180</text>
<text x="193.8" y="474">120W</text>
<text x="305.7" y="474">60W</text>
<text x="417.5" y="474">0</text>
<text x="529.3" y="474">60E</text>
<text x="641.3" y="474">120E</text>
<text x="753" y="474">180</text>
</g>
<g stroke="#000" stroke-width="1">
<rect x="83" y="497" width="30.41" height="14" fill="#7b10d8"/>
<rect x="113.41" y="497" width="30.41" height="14" fill="#6008d6"/>
<rect x="143.82" y="497" width="30.41" height="14" fill="#6008d6"/>
<rect x="174.23" y="497" width="30.41" height="14" fill="#4400d8"/>
<rect x="204.64" y="497" width="30.41" height="14" fill="#4400d8"/>
<rect x="235.05" y="497" width="30.41" height="14" fill="#0038e0"/>
<rect x="265.45" y="497" width="30.41" height="14" fill="#0088d8"/>
<rect x="295.86" y="497" width="30.41" height="14" fill="#0088d8"/>
<rect x="326.27" y="497" width="30.41" height="14" fill="#00a8d8"/>
<rect x="356.68" y="497" width="30.41" height="14" fill="#00c8e0"/>
<rect x="387.09" y="497" width="30.41" height="14" fill="#00c8e0"/>
<rect x="417.5" y="497" width="30.41" height="14" fill="#00e0b8"/>
<rect x="447.91" y="497" width="30.41" height="14" fill="#00e0b8"/>
<rect x="478.32" y="497" width="30.41" height="14" fill="#30e000"/>
<rect x="508.73" y="497" width="30.41" height="14" fill="#b8e000"/>
<rect x="539.14" y="497" width="30.41" height="14" fill="#b8e000"/>
<rect x="569.55" y="497" width="30.41" height="14" fill="#e0b800"/>
<rect x="599.95" y="497" width="30.41" height="14" fill="#e07800"/>
<rect x="630.36" y="497" width="30.41" height="14" fill="#e07800"/>
<rect x="660.77" y="497" width="30.41" height="14" fill="#e03800"/>
<rect x="691.18" y="497" width="30.41" height="14" fill="#e03800"/>
<rect x="721.59" y="497" width="30.41" height="14" fill="#e00000"/>
</g>
<g class="t" font-size="17" text-anchor="middle">
<text x="113.41" y="526">10</text>
<text x="174.23" y="526">30</text>
<text x="235.05" y="526">50</text>
<text x="295.86" y="526">70</text>
<text x="356.68" y="526">90</text>
<text x="417.5" y="526">110</text>
<text x="478.32" y="526">130</text>
<text x="539.14" y="526">150</text>
<text x="599.95" y="526">200</text>
<text x="660.77" y="526">300</text>
<text x="721.59" y="526">500</text>
</g>
</svg>
</body></html>
